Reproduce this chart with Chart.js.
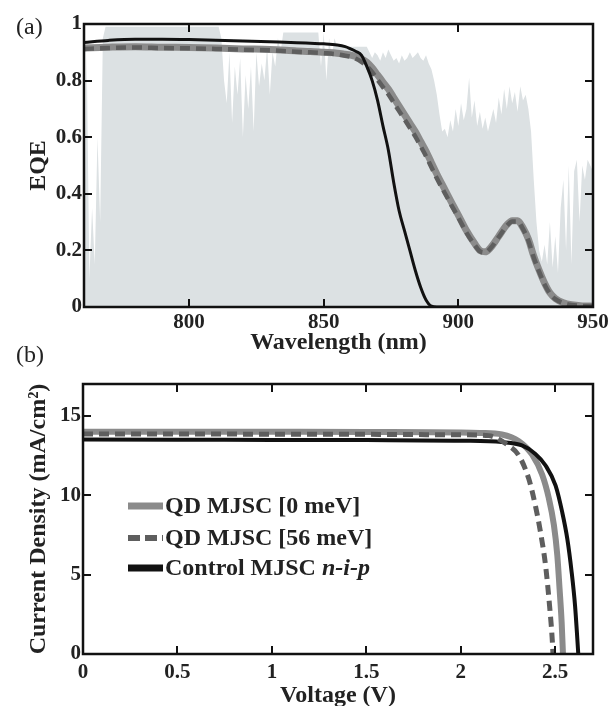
<!DOCTYPE html>
<html>
<head>
<meta charset="utf-8">
<script src="https://cdn.jsdelivr.net/npm/chart.js@4.4.1/dist/chart.umd.min.js"></script>
<style>
  html, body { margin: 0; padding: 0; background: #fff; overflow: hidden; width: 614px; height: 706px; }
  #wrap { position: relative; width: 614px; height: 706px; }
  canvas { position: absolute; left: 0; }
  #cA { top: 0; }
  #cB { top: 340px; }
  .plabel { position: absolute; font-family: "Liberation Serif", serif; font-size: 24px; color: #222; line-height: 24px; }
</style>
</head>
<body>
<div id="wrap">
  <canvas id="cA" width="614" height="360"></canvas>
  <canvas id="cB" width="614" height="372"></canvas>
  <div class="plabel" style="left:16px; top:14px;">(a)</div>
  <div class="plabel" style="left:16px; top:342px;">(b)</div>
</div>
<script>
// ---------- Panel (a): EQE vs wavelength ----------
const wlTicks = [800, 850, 900, 950];
const wlTickLabels = ['800', '850', '900', '950'];
const eqeTicks = [0, 0.2, 0.4, 0.6, 0.8, 1];
const eqeTickLabels = ['0', '0.2', '0.4', '0.6', '0.8', '1'];

// background spectrum (shaded)
const specWl = [761,762,763,764,765,766,767,768,769,790,811,812,813,814,815,816,817,818,819,820,821,822,823,824,825,826,827,828,829,830,831,832,833,834,835,836,848,849,850,851,852,853,854,855,866,867,868,869,870,871,872,873,874,875,876,877,878,879,880,881,882,883,884,885,886,887,888,889,890,891,892,893,894,895,896,897,898,899,900,901,902,903,904,905,906,907,908,909,910,911,912,913,914,915,916,917,918,919,920,921,922,923,924,925,926,927,928,929,930,931,932,933,934,935,936,937,938,939,940,941,942,943,944,945,946,947,948,949,950];
const specVal = [0.12,0.9,0.1,0.35,0.15,0.6,0.3,0.95,0.99,0.99,0.99,0.95,0.8,0.72,0.9,0.65,0.85,0.75,0.88,0.6,0.82,0.7,0.85,0.62,0.9,0.78,0.86,0.8,0.92,0.75,0.9,0.85,0.95,0.9,0.97,0.97,0.97,0.85,0.97,0.8,0.95,0.88,0.95,0.92,0.92,0.9,0.88,0.9,0.89,0.87,0.9,0.88,0.91,0.89,0.87,0.88,0.86,0.89,0.87,0.88,0.9,0.88,0.89,0.9,0.88,0.87,0.89,0.86,0.84,0.8,0.75,0.68,0.62,0.63,0.6,0.66,0.62,0.7,0.64,0.72,0.66,0.7,0.81,0.67,0.73,0.64,0.69,0.63,0.67,0.62,0.66,0.7,0.65,0.74,0.68,0.77,0.7,0.78,0.72,0.76,0.69,0.78,0.73,0.75,0.7,0.62,0.45,0.3,0.2,0.16,0.22,0.15,0.3,0.14,0.25,0.12,0.35,0.45,0.2,0.5,0.15,0.48,0.52,0.3,0.5,0.45,0.52,0.5,0.48];

const wlCurve = [761,770,780,790,800,810,820,830,840,845,850,855,858,860,862,864,866,868,870,872,874,876,878,880,882,884,886,888,890,892,895,898,900,903,906,908,910,912,915,918,920,922,924,926,928,930,932,934,936,939,942,946,950];
const eqeQd0 = [0.915,0.918,0.92,0.918,0.917,0.915,0.912,0.91,0.905,0.903,0.9,0.897,0.893,0.89,0.885,0.877,0.865,0.845,0.82,0.795,0.77,0.74,0.71,0.68,0.65,0.62,0.585,0.55,0.51,0.47,0.415,0.36,0.325,0.27,0.225,0.2,0.195,0.21,0.25,0.29,0.305,0.305,0.28,0.24,0.18,0.13,0.085,0.05,0.03,0.015,0.008,0.004,0.003];
const eqeQd56 = [0.912,0.915,0.917,0.915,0.914,0.912,0.909,0.907,0.902,0.9,0.897,0.893,0.888,0.884,0.877,0.866,0.851,0.83,0.803,0.777,0.752,0.722,0.692,0.663,0.633,0.603,0.568,0.533,0.494,0.455,0.402,0.35,0.316,0.263,0.22,0.197,0.193,0.208,0.247,0.287,0.302,0.302,0.276,0.235,0.175,0.125,0.08,0.047,0.028,0.014,0.007,0.004,0.003];
const eqeCtrl = [0.935,0.942,0.946,0.946,0.945,0.943,0.94,0.937,0.934,0.932,0.93,0.926,0.92,0.912,0.903,0.89,0.85,0.8,0.73,0.64,0.555,0.44,0.34,0.27,0.2,0.13,0.07,0.025,0.003,0,0,0,0,0,0,0,0,0,0,0,0,0,0,0,0,0,0,0,0,0,0,0,0];

// ---------- Panel (b): J-V ----------
const vTicks = [0, 0.5, 1, 1.5, 2, 2.5];
const vTickLabels = ['0', '0.5', '1', '1.5', '2', '2.5'];
const jTicks = [0, 5, 10, 15];
const jTickLabels = ['0', '5', '10', '15'];
const vQd0 = [0, 0.5, 1, 1.5, 2, 2.1, 2.218, 2.307, 2.378, 2.431, 2.466, 2.493, 2.511, 2.523, 2.534, 2.541];
const jQd0 = [14.0, 14.0, 13.99, 13.98, 13.95, 13.92, 13.82, 13.4, 12.55, 11.28, 9.81, 8.12, 6.22, 4.11, 2.0, 0];
const vQd56 = [0, 0.5, 1, 1.5, 2, 2.147, 2.253, 2.307, 2.36, 2.395, 2.422, 2.449, 2.47, 2.484, 2.488];
const jQd56 = [13.85, 13.85, 13.84, 13.83, 13.8, 13.75, 13.12, 12.5, 11.03, 9.34, 7.67, 5.56, 3.04, 0.95, 0];
const vCtrl = [0, 0.5, 1, 1.5, 2, 2.218, 2.324, 2.395, 2.449, 2.502, 2.537, 2.564, 2.587, 2.605, 2.617, 2.622];
const jCtrl = [13.5, 13.49, 13.48, 13.47, 13.43, 13.34, 13.13, 12.6, 11.87, 10.6, 8.93, 7.25, 5.15, 3.04, 0.95, 0];

const seriesNames = ['QD MJSC [0 meV]', 'QD MJSC [56 meV]', 'Control MJSC n-i-p'];

const C_QD0 = '#8b8b8b', C_QD56 = '#5e5e5e', C_CTRL = '#111111', C_FILL = '#dce1e3';
const SERIF = '"Liberation Serif", "Times New Roman", serif';

function pts(xs, ys) { return xs.map((x, i) => ({ x: x, y: ys[i] })); }
function setTicks(values, labels) {
  return s => { s.ticks = values.map((v, i) => ({ value: v, label: labels[i] })); };
}
function labelFrom(values, labels) {
  return v => { const i = values.findIndex(t => Math.abs(t - v) < 1e-9); return i >= 0 ? labels[i] : ''; };
}

const framePlugin = {
  id: 'frame',
  afterDatasetsDraw(chart) {
    const { ctx, chartArea: a, scales } = chart;
    const x = scales.x, y = scales.y;
    ctx.save();
    ctx.strokeStyle = '#111';
    ctx.lineWidth = 2;
    ctx.lineCap = 'butt';
    const L = 8;
    ctx.beginPath();
    x.ticks.forEach(t => {
      const px = Math.round(x.getPixelForValue(t.value));
      if (px <= a.left + 2 || px >= a.right - 2) return;
      ctx.moveTo(px, a.bottom); ctx.lineTo(px, a.bottom - L);
      ctx.moveTo(px, a.top); ctx.lineTo(px, a.top + L);
    });
    y.ticks.forEach(t => {
      const py = Math.round(y.getPixelForValue(t.value));
      if (py <= a.top + 2 || py >= a.bottom - 2) return;
      ctx.moveTo(a.left, py); ctx.lineTo(a.left + L, py);
      ctx.moveTo(a.right, py); ctx.lineTo(a.right - L, py);
    });
    ctx.stroke();
    ctx.lineWidth = 2.5;
    ctx.strokeRect(a.left, a.top, a.right - a.left, a.bottom - a.top);
    ctx.restore();
  }
};

const legendPlugin = {
  id: 'jvLegend',
  afterDraw(chart) {
    const { ctx, chartArea: a } = chart;
    const styles = [
      { color: C_QD0, dash: [], w: 7 },
      { color: C_QD56, dash: [12, 5], w: 6 },
      { color: C_CTRL, dash: [], w: 7 }
    ];
    const x0 = a.left + 45, x1 = a.left + 80, tx = a.left + 82;
    const rows = [a.top + 122, a.top + 154, a.top + 184];
    ctx.save();
    seriesNames.forEach((name, i) => {
      const s = styles[i], yy = rows[i];
      ctx.strokeStyle = s.color; ctx.lineWidth = s.w; ctx.setLineDash(s.dash); ctx.lineCap = 'butt';
      ctx.beginPath(); ctx.moveTo(x0, yy); ctx.lineTo(x1, yy); ctx.stroke();
      ctx.setLineDash([]);
      ctx.fillStyle = '#222';
      ctx.textBaseline = 'middle';
      ctx.textAlign = 'left';
      const m = name.match(/^(.*\s)(n-i-p)$/);
      if (m) {
        ctx.font = 'bold 24px ' + SERIF;
        ctx.fillText(m[1], tx, yy + 1);
        const w = ctx.measureText(m[1]).width;
        ctx.font = 'italic bold 24px ' + SERIF;
        ctx.fillText(m[2], tx + w, yy + 1);
      } else {
        ctx.font = 'bold 24px ' + SERIF;
        ctx.fillText(name, tx, yy + 1);
      }
    });
    ctx.restore();
  }
};

const tickFont = { family: SERIF, size: 21, weight: 'bold' };
const titleFont = { family: SERIF, size: 24, weight: 'bold' };

function axisCommon() {
  return {
    grid: { display: false, drawTicks: false },
    border: { display: false },
  };
}

// Chart A
new Chart(document.getElementById('cA'), {
  type: 'line',
  data: {
    datasets: [
      { label: 'spectrum', data: pts(specWl, specVal), borderWidth: 0, pointRadius: 0, backgroundColor: C_FILL, fill: 'origin', tension: 0, order: 10 },
      { label: seriesNames[0], data: pts(wlCurve, eqeQd0), borderColor: C_QD0, borderWidth: 7, pointRadius: 0, fill: false, cubicInterpolationMode: 'monotone', order: 3 },
      { label: seriesNames[1], data: pts(wlCurve, eqeQd56), borderColor: C_QD56, borderWidth: 4.5, borderDash: [10, 6], pointRadius: 0, fill: false, cubicInterpolationMode: 'monotone', order: 2 },
      { label: seriesNames[2], data: pts(wlCurve, eqeCtrl), borderColor: C_CTRL, borderWidth: 3, pointRadius: 0, fill: false, cubicInterpolationMode: 'monotone', order: 1 }
    ]
  },
  options: {
    responsive: false, animation: false, devicePixelRatio: 1,
    layout: { padding: { top: 24, right: 21, left: 0, bottom: 3 } },
    plugins: { legend: { display: false }, tooltip: { enabled: false } },
    scales: {
      x: Object.assign(axisCommon(), {
        type: 'linear', min: 761, max: 950,
        afterBuildTicks: setTicks(wlTicks, wlTickLabels),
        afterFit: s => { s.height = 50; },
        ticks: { font: tickFont, color: '#222', padding: 3, maxRotation: 0, autoSkip: false, callback: labelFrom(wlTicks, wlTickLabels) },
        title: { display: true, text: 'Wavelength (nm)', font: titleFont, color: '#222', padding: { top: 0, bottom: 0 } }
      }),
      y: Object.assign(axisCommon(), {
        type: 'linear', min: 0, max: 1,
        afterBuildTicks: setTicks(eqeTicks, eqeTickLabels),
        afterFit: s => { s.width = 84; },
        ticks: { font: tickFont, color: '#222', padding: 2, callback: labelFrom(eqeTicks, eqeTickLabels) },
        title: { display: true, text: 'EQE', font: titleFont, color: '#222', padding: { top: 24, bottom: 0 } }
      })
    }
  },
  plugins: [framePlugin]
});

// Chart B
new Chart(document.getElementById('cB'), {
  type: 'line',
  data: {
    datasets: [
      { label: seriesNames[0], data: pts(vQd0, jQd0), borderColor: C_QD0, borderWidth: 6, pointRadius: 0, fill: false, cubicInterpolationMode: 'monotone', order: 3 },
      { label: seriesNames[1], data: pts(vQd56, jQd56), borderColor: C_QD56, borderWidth: 5, borderDash: [10, 6], pointRadius: 0, fill: false, cubicInterpolationMode: 'monotone', order: 1 },
      { label: seriesNames[2], data: pts(vCtrl, jCtrl), borderColor: C_CTRL, borderWidth: 4, pointRadius: 0, fill: false, cubicInterpolationMode: 'monotone', order: 2 }
    ]
  },
  options: {
    responsive: false, animation: false, devicePixelRatio: 1,
    layout: { padding: { top: 44, right: 21, left: 0, bottom: 0 } },
    plugins: { legend: { display: false }, tooltip: { enabled: false } },
    scales: {
      x: Object.assign(axisCommon(), {
        type: 'linear', min: 0, max: 2.7,
        afterBuildTicks: setTicks(vTicks, vTickLabels),
        afterFit: s => { s.height = 58; },
        ticks: { font: tickFont, color: '#222', padding: 6, maxRotation: 0, autoSkip: false, callback: labelFrom(vTicks, vTickLabels) },
        title: { display: true, text: 'Voltage (V)', font: titleFont, color: '#222', padding: { top: 0, bottom: 2 } }
      }),
      y: Object.assign(axisCommon(), {
        type: 'linear', min: 0, max: 17,
        afterBuildTicks: setTicks(jTicks, jTickLabels),
        afterFit: s => { s.width = 83; },
        ticks: { font: tickFont, color: '#222', padding: 2, callback: labelFrom(jTicks, jTickLabels) },
        title: { display: true, text: 'Current Density (mA/cm²)', font: titleFont, color: '#222', padding: { top: 24, bottom: 0 } }
      })
    }
  },
  plugins: [framePlugin, legendPlugin]
});
</script>
</body>
</html>
